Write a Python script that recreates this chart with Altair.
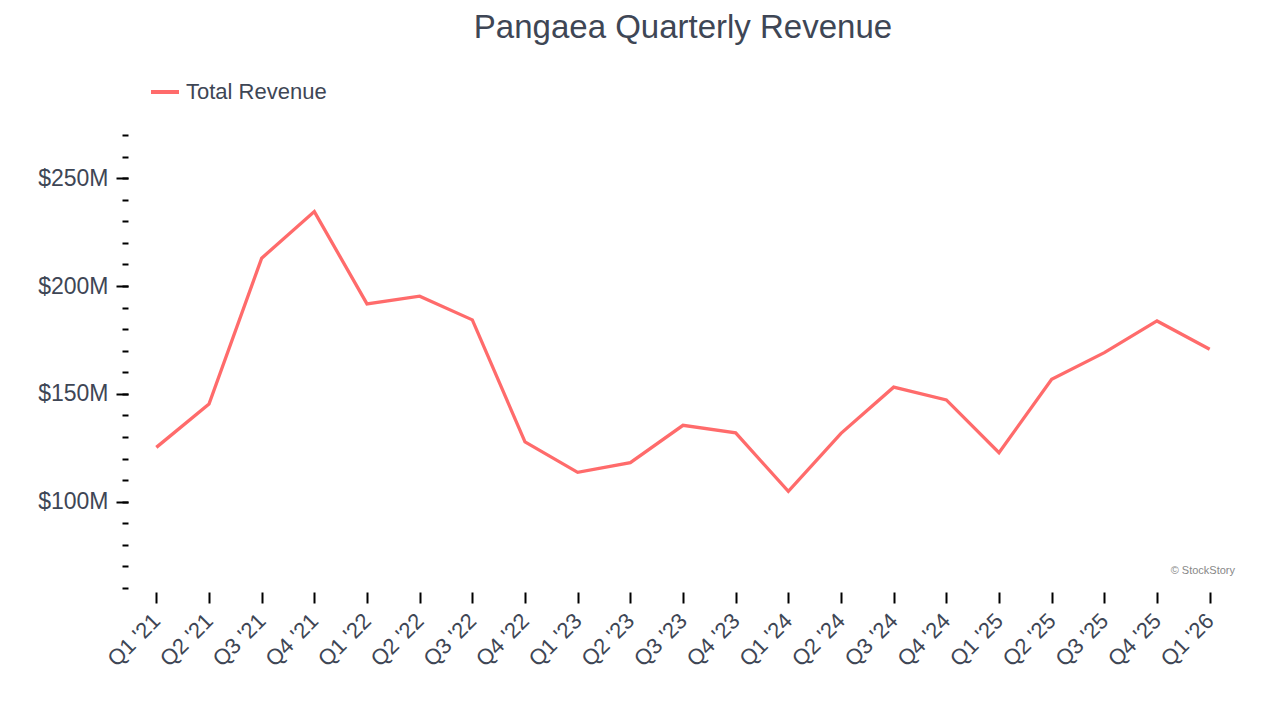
import altair as alt
import pandas as pd

quarters = ["Q1 '21", "Q2 '21", "Q3 '21", "Q4 '21", "Q1 '22", "Q2 '22", "Q3 '22",
            "Q4 '22", "Q1 '23", "Q2 '23", "Q3 '23", "Q4 '23", "Q1 '24", "Q2 '24",
            "Q3 '24", "Q4 '24", "Q1 '25", "Q2 '25", "Q3 '25", "Q4 '25", "Q1 '26"]
revenue_musd = [125.2, 145.3, 212.9, 234.5, 191.7, 195.3, 184.3,
                127.7, 113.6, 118.1, 135.4, 131.9, 104.8, 131.7,
                153.1, 147.2, 122.7, 156.8, 169.1, 183.8, 170.7]
series_name = "Total Revenue"
major_ticks = [100, 150, 200, 250]
minor_ticks = list(range(60, 271, 10))
y_domain = [60, 270]
title_text = "Pangaea Quarterly Revenue"
watermark = "© StockStory"

df = pd.DataFrame({
    "quarter": quarters,
    "revenue": revenue_musd,
    "series": [series_name] * len(quarters),
})

text_color = "#3e4655"
font = "Liberation Sans"
line_color = "#ff6b6b"

xscale = alt.Scale(type="point", padding=0.5)
xaxis = alt.Axis(title=None, labelAngle=-45, labelAlign="right", labelBaseline="middle",
                 labelFontSize=22, labelColor=text_color, labelFont=font, labelPadding=14,
                 tickSize=11, tickWidth=2, tickColor="black", domain=False, grid=False,
                 offset=4)
yscale = alt.Scale(domain=y_domain, nice=False, zero=False)

line = alt.Chart(df).mark_line(strokeWidth=3.3).encode(
    x=alt.X("quarter:O", sort=quarters, scale=xscale, axis=xaxis),
    y=alt.Y("revenue:Q", scale=yscale,
            axis=alt.Axis(title=None, values=major_ticks, labelExpr="'$' + datum.value + 'M'",
                          tickSize=12, tickWidth=2, tickColor="black", domain=False, grid=False,
                          offset=2, labelPadding=8, labelFontSize=23, labelColor=text_color,
                          labelFont=font, orient="left")),
    color=alt.Color("series:N", scale=alt.Scale(range=[line_color]),
                    legend=alt.Legend(title=None, orient="none", legendX=19, legendY=-59,
                                      symbolType="stroke", symbolSize=784, symbolStrokeWidth=4,
                                      labelFontSize=22, labelColor=text_color, labelFont=font,
                                      padding=0, labelOffset=5)),
)

minor = alt.Chart(df).mark_line(opacity=0).encode(
    x=alt.X("quarter:O", sort=quarters, scale=xscale, axis=xaxis),
    y=alt.Y("revenue:Q", scale=yscale,
            axis=alt.Axis(title=None, values=minor_ticks, labels=False, tickSize=6, tickWidth=2,
                          tickColor="black", domain=False, grid=False, offset=2, orient="left")),
)

mark = alt.Chart(pd.DataFrame({"t": [watermark]})).mark_text(
    align="right", baseline="middle", fontSize=11, color="#888888", font=font
).encode(text="t:N", x=alt.value(1105), y=alt.value(436))

chart = alt.layer(minor, line, mark).resolve_axis(y="independent").properties(
    width=1106, height=453,
    autosize=alt.AutoSizeParams(type="none"),
    padding={"left": 122, "top": 127, "right": 36, "bottom": 124},
    title=alt.TitleParams(title_text, fontSize=33, color=text_color, font=font,
                          fontWeight="normal", anchor="middle", frame="group", offset=31),
).configure_view(stroke=None)

chart.save("out.html", embed_options={"renderer": "svg", "actions": False})
